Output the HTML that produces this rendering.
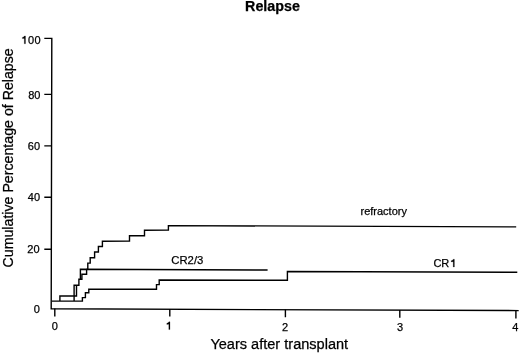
<!DOCTYPE html>
<html>
<head>
<meta charset="utf-8">
<style>
html,body{margin:0;padding:0;background:#fff;width:520px;height:353px;overflow:hidden;}
svg{display:block;will-change:transform;}
text{font-family:"Liberation Sans", sans-serif;fill:#000;stroke:#000;stroke-width:0.25px;}
.t11{font-size:11px;}
.t14{font-size:14.3px;}
.ln{fill:none;stroke:#000;stroke-width:1.4;stroke-linejoin:miter;stroke-linecap:butt;}
</style>
</head>
<body>
<svg width="520" height="353" viewBox="0 0 520 353">
<!-- title -->
<text x="245.1" y="11.2" style="font-size:14.3px;font-weight:bold">Relapse</text>

<!-- axes -->
<path class="ln" d="M44.3 38.4 L51.8 38.4 L51.2 308.8 L518.7 310.6"/>
<path class="ln" d="M44.3 94.4 H51.7 M44.3 145.9 H51.6 M44.3 197.2 H51.5 M44.3 249.3 H51.3"/>
<path class="ln" d="M54.8 308.5 V316.6 M169.8 308.9 V316.6 M285.4 309.5 V317.2 M399.8 309.9 V317.8 M515.9 310.5 V318.4"/>

<!-- y labels -->
<g class="t11" text-anchor="end">
<text x="27.9" y="43.8" text-anchor="start" letter-spacing="0.4">00</text>
<text x="40.4" y="98.8">80</text>
<text x="40.1" y="149.9">60</text>
<text x="40.1" y="200.9">40</text>
<text x="39.6" y="252.9">20</text>
<text x="39.9" y="313.4">0</text>
</g>
<!-- x labels -->
<g class="t11" text-anchor="middle">
<text x="54.7" y="329.6">0</text>
<text x="285.1" y="330.7">2</text>
<text x="400.1" y="331.3">3</text>
<text x="515.2" y="331.3">4</text>
</g>

<!-- axis titles -->
<text x="210.4" y="348.5" style="font-size:14.55px">Years after transplant</text>
<text style="font-size:14.2px" transform="translate(13 267.5) rotate(-90)" x="0" y="0">Cumulative Percentage of Relapse</text>

<!-- curves -->
<!-- baseline + CR1 -->
<path class="ln" d="M51.8 301.1 H82.4 V297.6 H85.4 V292.8 H88.8 V289.1 L156.5 289.2 V284.6 H159.2 V280.0 L287.4 280.3 V271.5 L517.3 272.3"/>
<!-- box curve -->
<path class="ln" d="M59.9 301.1 V296.0 H76.5 V285.2"/>
<!-- refractory -->
<path class="ln" d="M74.1 301.1 V285.2 H78.9 V279.3 H81.9 V274.2 H86.6 V269.4 H87.8 V263.1 H90.2 V257.7 H94.6 V252.0 H98.4 V246.5 H102.4 V241.2 L129.5 241.0 V235.8 L144.5 235.8 V230.3 L168.4 230.1 V225.6 L516.2 226.9"/>
<!-- CR2/3 -->
<path class="ln" d="M80.4 279.3 V269.3 L267.6 270.0"/>

<!-- "1" glyphs (Helvetica style, no foot) -->
<path fill="#000" stroke="#000" stroke-width="0.2" d="M25.50 35.90 L25.50 43.80 L24.30 43.80 L24.30 38.40 Q23.50 38.30 22.30 38.60 L22.30 37.40 Q23.90 37.10 24.40 35.90 Z M170.00 321.80 L170.00 329.60 L168.80 329.60 L168.80 324.30 Q168.00 324.20 166.80 324.50 L166.80 323.30 Q168.40 323.00 168.90 321.80 Z M454.40 259.20 L454.40 267.00 L453.20 267.00 L453.20 261.70 Q452.40 261.60 451.20 261.90 L451.20 260.70 Q452.80 260.40 453.30 259.20 Z"/>
<!-- curve labels -->
<text class="t11" x="360.5" y="214.7">refractory</text>
<text x="171.3" y="264.3" style="font-size:11.3px">CR2/3</text>
<text class="t11" x="433.4" y="267.0">CR</text>
</svg>
</body>
</html>
